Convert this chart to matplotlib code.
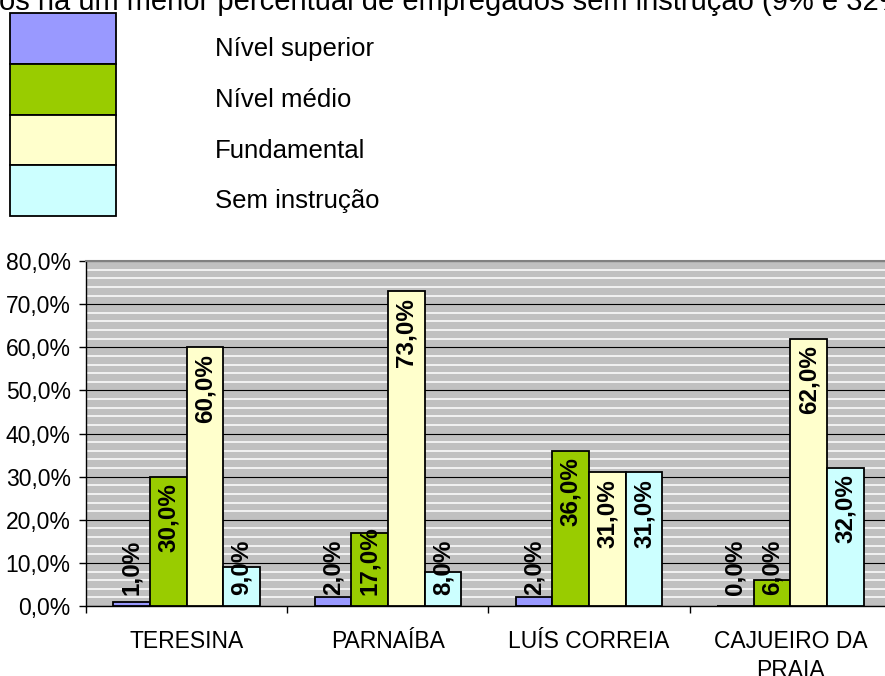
import matplotlib
matplotlib.use("Agg")
import matplotlib.pyplot as plt
from matplotlib.patches import Rectangle
from matplotlib.ticker import FixedLocator, FuncFormatter
import numpy as np

plt.rcParams['font.family'] = ['Liberation Sans', 'DejaVu Sans']

cidades = ["TERESINA", "PARNAÍBA", "LUÍS CORREIA", "CAJUEIRO DA\nPRAIA"]
niveis = ["Nível superior", "Nível médio", "Fundamental", "Sem instrução"]
cores = ["#9999FF", "#99CC00", "#FFFFCC", "#CCFFFF"]
superior = [1.0, 2.0, 2.0, 0.0]
medio = [30.0, 17.0, 36.0, 6.0]
fundamental = [60.0, 73.0, 31.0, 62.0]
sem_instrucao = [9.0, 8.0, 31.0, 32.0]
series = [superior, medio, fundamental, sem_instrucao]
texto_topo = "os há um menor percentual de empregados sem instrução (9% e 32%)"

W, H = 885, 676
fig = plt.figure(figsize=(W / 100, H / 100), dpi=100)

def px(x, y):
    # pixel (from top-left) -> figure fraction
    return x / W, 1 - y / H

# plot area in pixels
left, right, top, bottom = 86, 891, 261, 606
ax = fig.add_axes([left / W, 1 - bottom / H, (right - left) / W, (bottom - top) / H])
ax.set_facecolor("#C0C0C0")

x = np.arange(len(cidades))
w = 0.182
for j, vals in enumerate(series):
    ax.bar(x + (j - 1.5) * w, vals, w, color=cores[j], edgecolor="black",
           linewidth=1.3, zorder=3)

ax.set_xlim(-0.5, 3.5)
ax.set_ylim(0, 80)
ax.yaxis.set_major_locator(FixedLocator(np.arange(0, 81, 10)))
ax.yaxis.set_minor_locator(FixedLocator([v for v in np.arange(0, 81, 2) if v % 10]))
ax.yaxis.set_major_formatter(FuncFormatter(lambda v, p: f"{v:.1f}".replace(".", ",") + "%"))
ax.yaxis.grid(True, which="major", color="black", linewidth=0.8, zorder=1)
ax.yaxis.grid(True, which="minor", color="white", linewidth=1.1, zorder=1)
ax.set_axisbelow(True)

ax.xaxis.set_major_locator(FixedLocator([-0.5, 0.5, 1.5, 2.5]))
ax.xaxis.set_major_formatter(FuncFormatter(lambda v, p: ""))
ax.xaxis.set_minor_locator(FixedLocator(x))
ax.set_xticklabels(cidades, minor=True, fontsize=16.5, linespacing=1.38)
ax.tick_params(axis="x", which="major", direction="out", length=5, width=1)
ax.tick_params(axis="x", which="minor", length=0, pad=17)
ax.tick_params(axis="y", which="major", direction="out", length=5, width=1,
               labelsize=16.5, pad=6)
ax.tick_params(axis="y", which="minor", length=0)

for s in ["left", "bottom"]:
    ax.spines[s].set_color("black")
    ax.spines[s].set_linewidth(1)
ax.spines["top"].set_color("#808080")
ax.spines["top"].set_linewidth(1.5)
ax.spines["right"].set_visible(False)

# bar labels, inside end, rotated
fig.canvas.draw()
renderer = fig.canvas.get_renderer()
inv = ax.transData.inverted()
for j, vals in enumerate(series):
    for i, v in enumerate(vals):
        xc = x[i] + (j - 1.5) * w
        lab = f"{v:.1f}".replace(".", ",") + "%"
        t = ax.text(xc, v - 1.5, lab, rotation=90, ha="center", va="top",
                    fontsize=17.5, fontweight="bold", zorder=5)
        bb = t.get_window_extent(renderer)
        y0 = inv.transform((0, bb.y0))[1]
        if y0 < 2.6:
            t.set_y(2.6)
            t.set_va("bottom")

# legend drawn like the original stacked boxes
box_top, box_h = 13, 50.8
for j, nome in enumerate(niveis):
    bx, by = px(10, box_top + (j + 1) * box_h)
    bw = 106 / W
    bh = box_h / H
    fig.add_artist(Rectangle((bx, by), bw, bh, transform=fig.transFigure,
                             facecolor=cores[j], edgecolor="black", linewidth=1.3))
    tx, ty = px(215, box_top + j * box_h + 36)
    fig.text(tx, ty, nome, fontsize=18.5, ha="left", va="center")

tx, ty = px(-1, 10)
fig.text(tx, ty, texto_topo, fontsize=21, ha="left", va="baseline")

fig.savefig("out.png", dpi=100)
